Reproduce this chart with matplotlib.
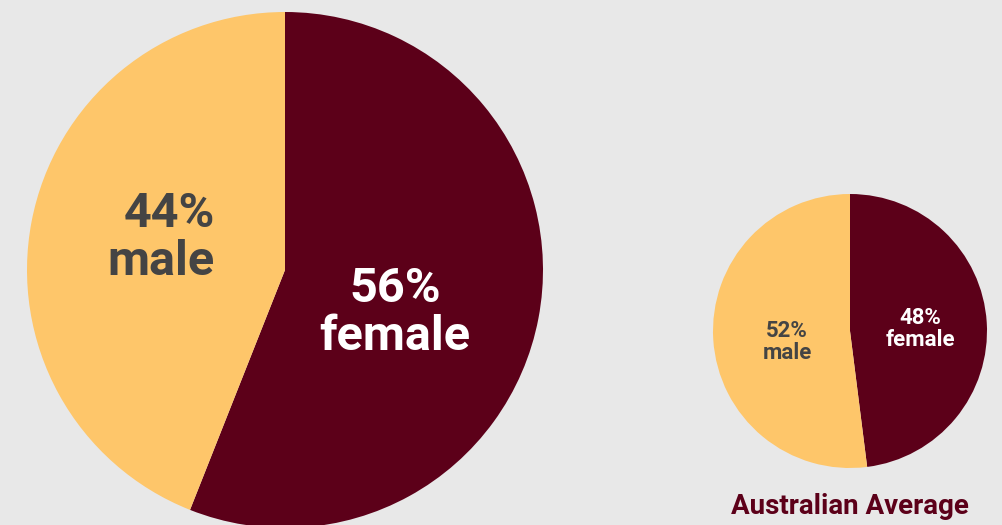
import matplotlib.pyplot as plt

plt.rcParams['font.family'] = ['Roboto', 'DejaVu Sans']

# Gender split, program vs national average (%)
labels = ['female', 'male']
program_share = [56, 44]
australia_share = [48, 52]

maroon = '#5c0019'
gold = '#fec66a'
grey_text = '#444444'
bg = '#e8e8e8'

W, H = 1002, 525
fig = plt.figure(figsize=(W / 100, H / 100), dpi=100, facecolor=bg)
ax = fig.add_axes([0, 0, 1, 1])
ax.set_facecolor(bg)

# pixel-style coordinates, y measured from the bottom
ax.pie(program_share, colors=[maroon, gold], startangle=90, counterclock=False,
       center=(285, H - 270), radius=258, wedgeprops=dict(linewidth=0))
ax.pie(australia_share, colors=[maroon, gold], startangle=90, counterclock=False,
       center=(850, H - 331), radius=137, wedgeprops=dict(linewidth=0))

ax.set_xlim(0, W)
ax.set_ylim(0, H)
ax.set_aspect('equal')
ax.axis('off')

# labels on the large pie
ax.text(215, H - 238, f'{program_share[1]}%\n{labels[1]}', ha='right', va='center',
        multialignment='right', fontsize=35, fontweight='bold', color=grey_text,
        linespacing=1.08)
ax.text(395, H - 313, f'{program_share[0]}%\n{labels[0]}', ha='center', va='center',
        fontsize=35, fontweight='bold', color='white', linespacing=1.08)

# labels on the small pie
ax.text(787, H - 342, f'{australia_share[1]}%\n{labels[1]}', ha='center', va='center',
        fontsize=16, fontweight='bold', color=grey_text, linespacing=1.0)
ax.text(920, H - 329, f'{australia_share[0]}%\n{labels[0]}', ha='center', va='center',
        fontsize=16, fontweight='bold', color='white', linespacing=1.0)

ax.text(850, H - 507, 'Australian Average', ha='center', va='center',
        fontsize=20, fontweight='bold', color=maroon)

fig.savefig('out.png', dpi=100, facecolor=bg)
plt.close(fig)
